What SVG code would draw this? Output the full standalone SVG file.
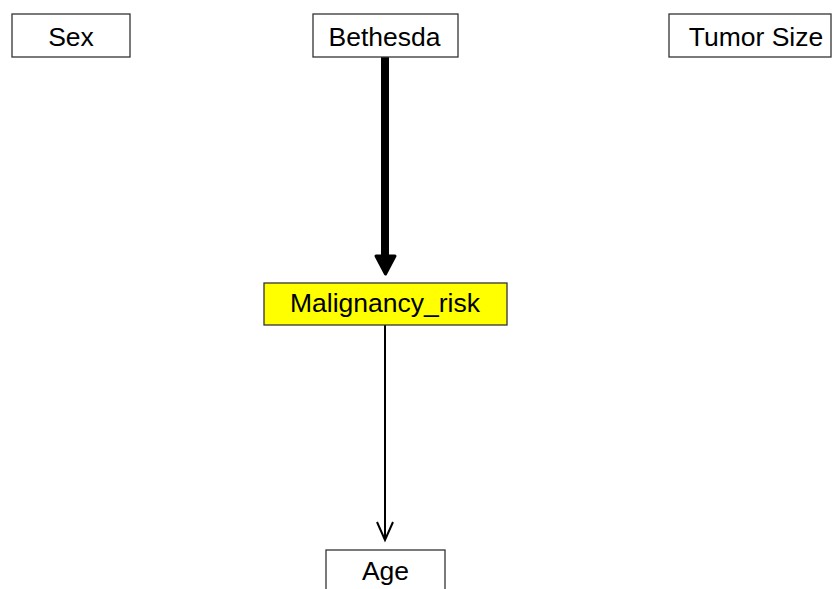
<svg xmlns="http://www.w3.org/2000/svg" width="833" height="589" viewBox="0 0 833 589">
<style>
.box{fill:#fff;stroke:#333;stroke-width:1.3}
.hl{fill:#ffff00}
.lbl{font-family:"Liberation Sans",Arial,sans-serif;font-size:26.5px;fill:#000;text-anchor:middle}
</style>
<rect width="833" height="589" fill="#fff"/>
<g id="connectors">
<line x1="385" y1="57" x2="385" y2="258" stroke="#000" stroke-width="8" stroke-linecap="round"/>
<polygon points="376,256 395,256 385.5,274" fill="#000" stroke="#000" stroke-width="3" stroke-linejoin="round"/>
<line x1="385" y1="325" x2="385" y2="539" stroke="#000" stroke-width="2"/>
<polyline points="377,522 385,540 393,522" fill="none" stroke="#000" stroke-width="2"/>
</g>
<g id="node-sex"><rect class="box" x="12" y="14" width="118" height="43"/><text class="lbl" x="71" y="46">Sex</text></g>
<g id="node-bethesda"><rect class="box" x="313" y="14" width="145" height="43"/><text class="lbl" x="384.5" y="46">Bethesda</text></g>
<g id="node-tumor"><rect class="box" x="669" y="14" width="162" height="43"/><text class="lbl" x="756" y="46">Tumor Size</text></g>
<g id="node-malignancy"><rect class="box hl" x="264" y="283" width="243" height="42"/><text class="lbl" x="385" y="312">Malignancy_risk</text></g>
<g id="node-age"><rect class="box" x="326" y="550" width="119" height="45"/><text class="lbl" x="385.5" y="580">Age</text></g>
</svg>
